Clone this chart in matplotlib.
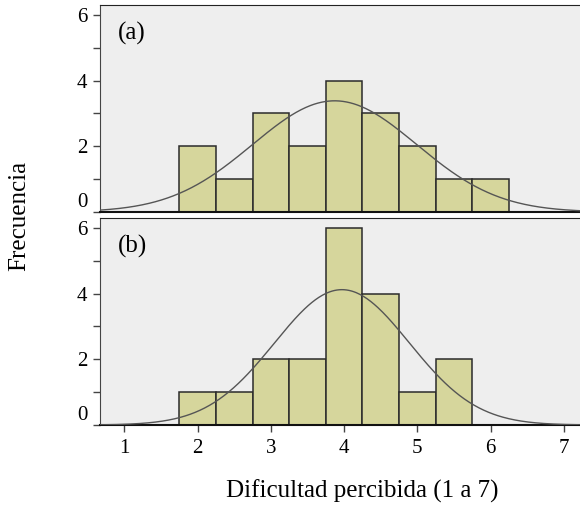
import numpy as np
import matplotlib.pyplot as plt

plt.rcParams['font.family'] = ['Liberation Serif', 'DejaVu Serif']

# bin left edges (width 0.5) and counts
bin_width = 0.5
edges_a = [1.75, 2.25, 2.75, 3.25, 3.75, 4.25, 4.75, 5.25, 5.75]
counts_a = [2, 1, 3, 2, 4, 3, 2, 1, 1]
edges_b = [1.75, 2.25, 2.75, 3.25, 3.75, 4.25, 4.75, 5.25]
counts_b = [1, 1, 2, 2, 6, 4, 1, 2]

# fitted normal curves (mean, sd, n) as shown in each panel
fit_a = (3.87, 1.12, 19)
fit_b = (3.97, 0.92, 19)

y_ticks = [0, 2, 4, 6]
y_labels = ['0', '2', '4', '6']
x_ticks = [1, 2, 3, 4, 5, 6, 7]

panels = [('(a)', edges_a, counts_a, fit_a), ('(b)', edges_b, counts_b, fit_b)]

bg = '#EEEEEE'
bar_color = '#D6D69C'
edge_color = '#2b2b2b'

fig = plt.figure(figsize=(5.8, 5.07), dpi=100)
ax_a = fig.add_axes([0.1724, 0.5819, 0.8276, 0.4082])
ax_b = fig.add_axes([0.1724, 0.1617, 0.8276, 0.4083])
xlim = (0.669, 7.218)

for ax, (tag, edges, counts, (mu, sd, n)) in zip([ax_a, ax_b], panels):
    ax.set_facecolor(bg)
    ax.bar(edges, counts, width=bin_width, align='edge', color=bar_color,
           edgecolor=edge_color, linewidth=1.1, zorder=2)
    xs = np.linspace(xlim[0], xlim[1], 400)
    ys = n * bin_width / (sd * np.sqrt(2 * np.pi)) * np.exp(-0.5 * ((xs - mu) / sd) ** 2)
    ax.plot(xs, ys, color='#555555', linewidth=1.0, zorder=3)
    ax.set_xlim(*xlim)
    ax.set_ylim(0, 6.3)
    ax.set_yticks(y_ticks, labels=y_labels)
    ax.set_yticks([1, 3, 5], minor=True)
    ax.tick_params(axis='y', which='both', direction='out', length=5, width=1,
                   color='#444444', labelsize=15, pad=4)
    # the "0" sits a little above its tick, as in the original
    ax.get_yticklabels()[0].set_verticalalignment('bottom')
    ax.spines['right'].set_visible(False)
    ax.spines['left'].set_color('#444444')
    ax.spines['top'].set_color('#222222')
    ax.spines['bottom'].set_color('#111111')
    ax.spines['bottom'].set_linewidth(1.5)
    ax.text(0.038, 0.865, tag, transform=ax.transAxes, fontsize=18,
            ha='left', va='center')

ax_a.set_xticks([])
ax_b.set_xticks(x_ticks)
ax_b.tick_params(axis='x', direction='out', length=5, width=1,
                 color='#444444', labelsize=15, pad=5)

fig.text(0.624, 0.031, 'Dificultad percibida (1 a 7)', fontsize=18,
         ha='center', va='center')
fig.text(0.033, 0.575, 'Frecuencia', fontsize=18, rotation=90,
         ha='center', va='center')

fig.savefig('out.png', dpi=100)
